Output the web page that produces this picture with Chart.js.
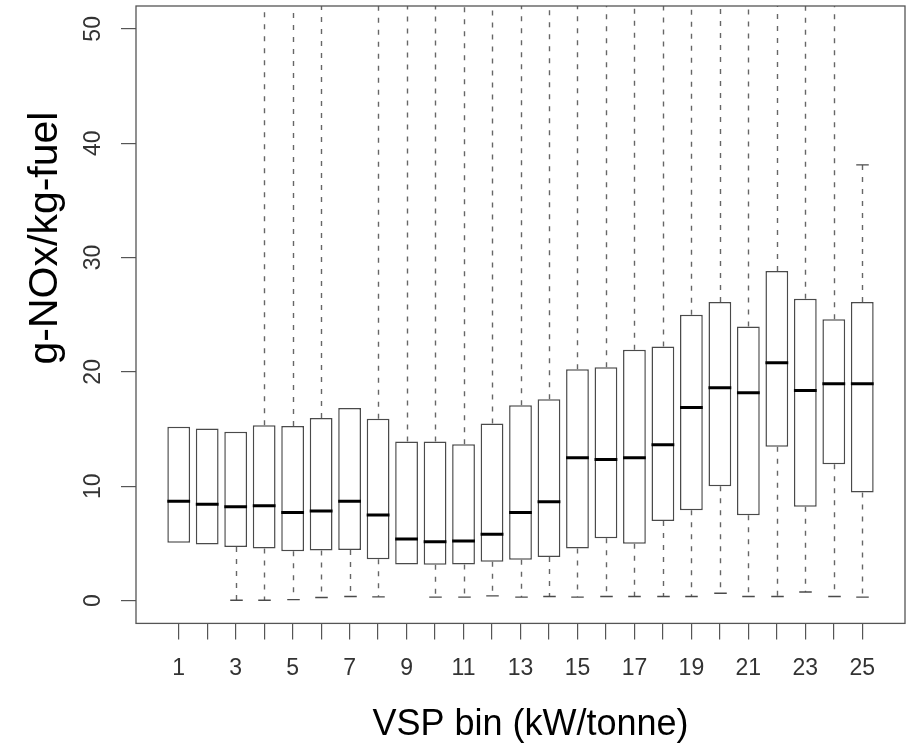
<!DOCTYPE html>
<html lang="en">
  <head>
    <title>NOx by VSP bin</title>
    <script src="https://cdn.jsdelivr.net/npm/chart.js"></script>
    <style>
      body { margin: 0; background: #fff; }
      #boxChart { display: block; }
    </style>
  </head>
  <body>
    <canvas id="boxChart" width="907" height="745"></canvas>

    <script>
      // VSP bins and box statistics
      const bins = [1, 2, 3, 4, 5, 6, 7, 8, 9, 10, 11, 12, 13, 14, 15, 16, 17, 18, 19, 20, 21, 22, 23, 24, 25];
      const q1 = [5.05, 4.91, 4.68, 4.56, 4.32, 4.38, 4.41, 3.6, 3.16, 3.12, 3.16, 3.39, 3.56, 3.8, 4.56, 5.44, 4.97, 6.96, 7.89, 10.0, 7.45, 13.45, 8.21, 11.93, 9.44];
      const medians = [8.68, 8.42, 8.21, 8.3, 7.69, 7.83, 8.68, 7.48, 5.38, 5.14, 5.2, 5.79, 7.69, 8.65, 12.48, 12.33, 12.48, 13.62, 16.89, 18.62, 18.18, 20.79, 18.36, 18.95, 18.95];
      const q3 = [15.2, 15.05, 14.76, 15.32, 15.26, 15.96, 16.84, 15.9, 13.91, 13.91, 13.68, 15.49, 17.07, 17.6, 20.23, 20.4, 21.93, 22.22, 25.0, 26.1, 23.97, 28.82, 26.4, 24.6, 26.1];
      // whisker ends (null = no whisker drawn); 60 runs off the top of the plot
      const lowerWhisker = [null, null, 0.03, 0.03, 0.08, 0.26, 0.35, 0.32, null, 0.3, 0.3, 0.41, 0.3, 0.35, 0.3, 0.35, 0.35, 0.35, 0.35, 0.64, 0.35, 0.35, 0.75, 0.35, 0.3];
      const upperWhisker = [null, null, null, 60, 60, 60, null, 60, 60, 60, 60, 60, 60, 60, 60, 60, 60, 60, 60, 60, 60, 60, 60, 60, 38.1];
      const yTicks = [0, 10, 20, 30, 40, 50];

      const xTitle = "VSP bin (kW/tonne)";
      const yTitle = "g-NOx/kg-fuel";
      const FONT = "'Liberation Sans', Arial, Helvetica, sans-serif";

      // width of one bin in pixels, taken from the x scale
      function binWidth(chart) {
        const xs = chart.scales.x;
        return xs.getPixelForValue(1) - xs.getPixelForValue(0);
      }

      // whiskers, frame, y tick labels and axis titles
      const boxExtras = {
        id: "boxExtras",
        afterDatasetsDraw(chart) {
          const { ctx, chartArea } = chart;
          const xs = chart.scales.x;
          const ys = chart.scales.y;
          const capHalf = binWidth(chart) * 0.22;
          ctx.save();
          ctx.beginPath();
          ctx.rect(chartArea.left, chartArea.top, chartArea.right - chartArea.left, chartArea.bottom - chartArea.top);
          ctx.clip();
          bins.forEach((b, i) => {
            const x = Math.round(xs.getPixelForValue(b)) + 0.5;
            const ends = [
              [q3[i], upperWhisker[i]],
              [q1[i], lowerWhisker[i]],
            ];
            ends.forEach(([from, to]) => {
              if (to === null) return;
              const y0 = ys.getPixelForValue(from);
              const y1 = ys.getPixelForValue(to);
              ctx.setLineDash([5, 7]);
              ctx.strokeStyle = "#666";
              ctx.lineWidth = 1.4;
              ctx.beginPath();
              ctx.moveTo(x, y0);
              ctx.lineTo(x, y1);
              ctx.stroke();
              ctx.setLineDash([]);
              ctx.strokeStyle = "#4a4a4a";
              ctx.lineWidth = 1.4;
              ctx.beginPath();
              ctx.moveTo(x - capHalf, y1);
              ctx.lineTo(x + capHalf, y1);
              ctx.stroke();
            });
          });
          ctx.restore();
        },
        afterDraw(chart) {
          const { ctx, chartArea } = chart;
          const ys = chart.scales.y;
          ctx.save();
          // plot frame
          ctx.strokeStyle = "#555";
          ctx.lineWidth = 1.3;
          ctx.strokeRect(chartArea.left, chartArea.top, chartArea.right - chartArea.left, chartArea.bottom - chartArea.top);

          // y tick labels, parallel to the axis
          ctx.fillStyle = "#333";
          ctx.font = "23px " + FONT;
          ctx.textAlign = "center";
          ctx.textBaseline = "alphabetic";
          yTicks.forEach((v) => {
            ctx.save();
            ctx.translate(chartArea.left - 36, ys.getPixelForValue(v));
            ctx.rotate(-Math.PI / 2);
            ctx.fillText(String(v), 0, 0);
            ctx.restore();
          });

          // axis titles
          ctx.fillStyle = "#000";
          ctx.font = "36px " + FONT;
          ctx.fillText(xTitle, (chartArea.left + chartArea.right) / 2 + 10, chart.height - 10);
          ctx.save();
          ctx.font = "41px " + FONT;
          ctx.translate(57, chartArea.top + 232);
          ctx.rotate(-Math.PI / 2);
          ctx.fillText(yTitle, 0, 0);
          ctx.restore();
          ctx.restore();
        },
      };

      const ctx = document.getElementById("boxChart").getContext("2d");
      const chart = new Chart(ctx, {
        type: "bar",
        data: {
          datasets: [
            {
              type: "line",
              label: "Median",
              data: bins.map((b, i) => ({ x: b, y: medians[i] })),
              showLine: false,
              pointStyle: "line",
              pointRadius: (c) => binWidth(c.chart) * 0.4,
              pointHoverRadius: (c) => binWidth(c.chart) * 0.4,
              pointBorderWidth: 3,
              pointBorderColor: "#000",
              order: 0,
            },
            {
              label: "IQR",
              data: bins.map((b, i) => ({ x: b, y: [q1[i], q3[i]] })),
              backgroundColor: "#fff",
              borderColor: "#4a4a4a",
              borderWidth: 1.5,
              borderSkipped: false,
              barPercentage: 0.8,
              categoryPercentage: 1.0,
              order: 1,
            },
          ],
        },
        plugins: [boxExtras],
        options: {
          responsive: false,
          animation: false,
          devicePixelRatio: 1,
          layout: {
            padding: { left: 121, top: 6, right: 2, bottom: 48 },
          },
          plugins: {
            legend: { display: false },
            tooltip: { enabled: false },
          },
          scales: {
            x: {
              type: "linear",
              offset: false,
              min: -0.5,
              max: 26.5,
              afterBuildTicks: (axis) => {
                axis.ticks = bins.map((b) => ({ value: b }));
              },
              grid: {
                offset: false,
                drawOnChartArea: false,
                drawTicks: true,
                tickLength: 16,
                color: "#555",
                lineWidth: 1.2,
              },
              border: { display: false },
              ticks: {
                autoSkip: false,
                maxRotation: 0,
                padding: 15,
                color: "#333",
                font: { family: FONT, size: 23 },
                callback: (v) => (v % 2 === 1 ? String(v) : ""),
              },
            },
            y: {
              min: -2,
              max: 52,
              afterBuildTicks: (axis) => {
                axis.ticks = yTicks.map((v) => ({ value: v }));
              },
              grid: {
                drawOnChartArea: false,
                drawTicks: true,
                tickLength: 15,
                color: "#555",
                lineWidth: 1.2,
              },
              border: { display: false },
              ticks: { display: false },
            },
          },
        },
      });
    </script>
  </body>
</html>
